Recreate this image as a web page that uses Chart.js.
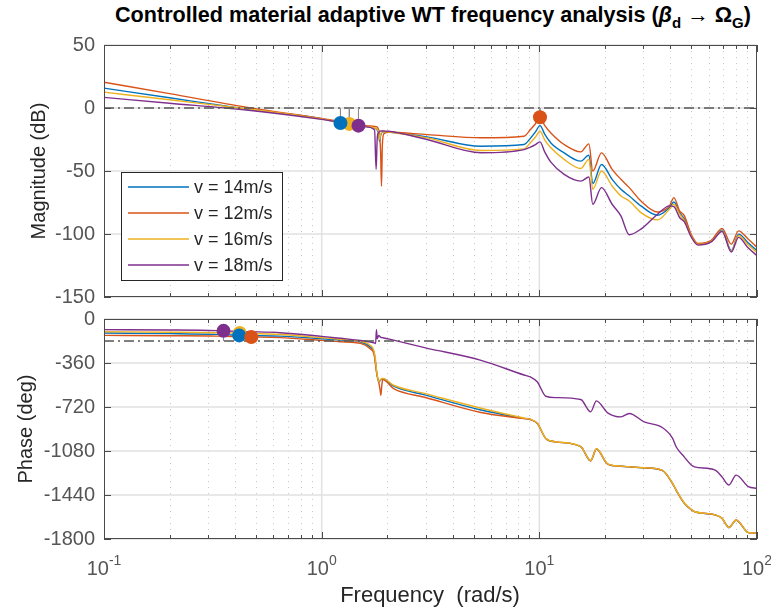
<!DOCTYPE html>
<html>
<head>
<meta charset="utf-8">
<script src="https://cdn.jsdelivr.net/npm/chart.js@4.4.1/dist/chart.umd.min.js"></script>
<style>
  body { margin: 0; background: #fff; width: 771px; height: 614px; position: relative; overflow: hidden; font-family: "Liberation Sans", Arial, sans-serif; }
  canvas { position: absolute; left: 0; }
  #magChart { top: 0; }
  #phaseChart { top: 290px; }
  .lbl { position: absolute; color: #262626; font-size: 20px; white-space: pre; line-height: 1; }
  .rot { transform: translate(-50%, -50%) rotate(-90deg); }
  #title { position: absolute; left: 433px; top: 3px; transform: translateX(-50%); font-size: 21.6px; font-weight: bold; color: #000; white-space: nowrap; line-height: 24px; }
  #title sub { font-size: 15px; vertical-align: -6px; line-height: 0; }
</style>
</head>
<body>
<div id="title">Controlled material adaptive WT frequency analysis (<i>β</i><sub>d</sub> → Ω<sub>G</sub>)</div>
<canvas id="magChart" width="771" height="320"></canvas>
<canvas id="phaseChart" width="771" height="324"></canvas>
<div class="lbl rot" style="left:38px;top:171px;">Magnitude (dB)</div>
<div class="lbl rot" style="left:25px;top:429px;">Phase (deg)</div>
<div class="lbl" style="left:430px;top:595px;transform:translate(-50%,-50%);font-size:22px;">Frequency  (rad/s)</div>
<script>
// series order as in the legend: 14, 12, 16, 18 m/s
const seriesNames = ['v = 14m/s', 'v = 12m/s', 'v = 16m/s', 'v = 18m/s'];
const seriesColors = ['#0072BD', '#D95319', '#EDB120', '#7E2F8E'];

const decadeTicks = [0.1, 1, 10, 100];
const magTicks = [-150, -100, -50, 0, 50];
const phaseTicks = [-1800, -1440, -1080, -720, -360, 0];

// magnitude (dB)
const magFreq = [0.1, 0.2, 0.45, 1.0, 1.22, 1.34, 1.476, 1.6, 1.75, 1.779, 1.8, 1.825, 1.844, 1.865, 1.883, 1.9, 1.93, 2.03, 3.05, 5.4,
  8.5, 9.1, 9.6, 10.07, 10.6, 11.3, 13.0, 15.5, 16.9, 17.6, 19.3, 21.6, 23.7, 25.9, 29.3, 34.9, 39.6, 41.5, 44.1, 46.4,
  49.9, 53.6, 61.6, 69.1, 76.2, 82.3, 91, 100];
const magV14 = [15.8, 8.1, -0.8, -8.6, -11.9, -12.8, -13.6, -14.6, -16.0, -16.6, -17.5, -20, -26.4, -22, -20, -19.2, -18.8, -19, -22.9, -30.3,
  -29, -24, -19, -14, -21, -27.7, -35.6, -42.2, -37.4, -60, -44.8, -56.6, -64.5, -69.8, -77.7, -85.1, -79, -74.6, -83, -88.2,
  -101.4, -108, -105.4, -96.7, -113.3, -100.1, -107, -113.3];
const magV12 = [20.5, 11.4, 0.7, -8.3, -10.6, -11.8, -12.8, -14.0, -14.6, -14.8, -15.2, -17, -22, -34, -62, -30, -20.5, -19.2, -21.1, -23.6,
  -22.4, -17.1, -12.5, -7.4, -14, -19.8, -29, -34.8, -28.5, -50, -35.6, -48.7, -56.6, -63.2, -73.8, -82.5, -77.7, -71.1, -81.7, -85.6,
  -100.5, -107.5, -105, -95.5, -108, -97.5, -104, -110.6];
const magV16 = [12.6, 6.5, -0.6, -8.7, -11.5, -12.6, -13.6, -14.6, -15.8, -16.3, -17.0, -19, -25, -21, -19.5, -19, -18.7, -19, -23.7, -33.7,
  -32.4, -27.5, -23, -18.5, -25.5, -31.6, -40.8, -48, -40.8, -64.5, -50, -61.9, -69.8, -73.8, -83, -88.8, -80.3, -76.4, -84.3, -89.6,
  -101.8, -108.3, -105.8, -97.5, -113.8, -101.4, -108.5, -114.6];
const magV18 = [8.4, 3.8, -1.6, -9.0, -11.3, -12.5, -14.0, -15.0, -17.5, -48.7, -24, -19.5, -18.5, -18.3, -18.2, -18.2, -18.3, -18.5, -25, -35.5,
  -33, -31, -29, -26.9, -35, -43, -52.7, -58, -54.8, -76.4, -63.2, -76.4, -85.6, -100.6, -96.1, -84.3, -77.7, -78.2, -86.9, -90.4,
  -102.5, -108.8, -106.3, -98, -114.3, -102.7, -111, -117.2];

// phase (deg)
const phaseFreq = [0.1, 0.2, 0.33, 0.45, 0.645, 1.0, 1.22, 1.51, 1.67, 1.74, 1.77, 1.785, 1.8, 1.83, 1.855, 1.87, 1.89, 1.91, 2.14, 3.0,
  5.4, 8.5, 9.1, 9.8, 10.7, 11.9, 15.5, 17.2, 18.3, 20.6, 23.7, 25.9, 30.3, 36.7, 40.9, 42.5, 46.4, 49.9, 51.6, 64.2,
  69, 74.3, 80.2, 91.3, 100];
const phaseV14 = [-115, -120, -126, -135, -140, -161, -172, -188, -229, -275, -360, -420, -465, -515, -505, -498, -490, -489, -550, -623,
  -745, -813, -822, -855, -977, -1005, -1045, -1160, -1064, -1187, -1205, -1210, -1218, -1238, -1344, -1400, -1508, -1560, -1576, -1603,
  -1630, -1708, -1646, -1748, -1753];
const phaseV12 = [-134, -137, -140, -147, -152, -175, -186, -200, -243, -290, -380, -430, -470, -520, -580, -624, -540, -495, -569, -642,
  -765, -815, -822, -855, -977, -1005, -1045, -1160, -1064, -1187, -1205, -1210, -1218, -1238, -1344, -1400, -1508, -1560, -1576, -1603,
  -1630, -1704, -1644, -1748, -1753];
const phaseV16 = [-104, -108, -112, -117, -127, -153, -166, -183, -215, -262, -345, -410, -460, -512, -500, -494, -487, -486, -542, -611,
  -730, -810, -820, -854, -976, -1004, -1044, -1158, -1062, -1185, -1204, -1209, -1217, -1237, -1342, -1398, -1505, -1558, -1575, -1602,
  -1630, -1706, -1645, -1747, -1752];
const phaseV18 = [-87, -90, -95, -103, -112, -142, -158, -176, -188, -195, -200, -87, -161, -134, -145, -150, -152, -153, -173, -236,
  -338, -458, -474, -515, -632, -643, -659, -760, -670, -768, -801, -773, -842, -888, -975, -1045, -1130, -1195, -1210, -1236,
  -1290, -1358, -1277, -1372, -1386];

// margin markers (same series order)
const gmFreq = [1.22, 10.07, 1.34, 1.476];
const gmMag = [-11.9, -7.4, -12.6, -14.0];
const pmFreq = [0.418, 0.475, 0.42, 0.354];
const pmPhase = [-134, -148, -115, -97];

const FONT = '"Liberation Sans", Arial, sans-serif';
const AXIS_COLOR = '#4a4a4a';
const minorTicks = [];
decadeTicks.slice(0, -1).forEach(d => { for (let k = 2; k <= 9; k++) minorTicks.push(k * d); });

function buildSets(freq, series, refLevel, mFreq, mVal) {
  const sets = series.map((vals, i) => ({
    label: seriesNames[i],
    data: freq.map((f, j) => ({ x: f, y: vals[j] })),
    borderColor: seriesColors[i], borderWidth: 1.4, pointRadius: 0, order: 13 - i,
    cubicInterpolationMode: 'monotone'
  }));
  sets.push({ data: [{ x: 0.1, y: refLevel }, { x: 100, y: refLevel }], borderColor: '#555', borderWidth: 1.4, borderDash: [10, 4, 2, 4], pointRadius: 0, order: 5 });
  mFreq.forEach((f, i) => {
    sets.push({ data: [{ x: f, y: refLevel }, { x: f, y: mVal[i] }], borderColor: '#8c8c8c', borderWidth: 1, pointRadius: 0, order: 4 });
    sets.push({ data: [{ x: f, y: mVal[i] }], showLine: false, pointRadius: 7, pointHoverRadius: 7, pointBorderWidth: 0,
      pointBackgroundColor: seriesColors[i], order: [2, 1, 3, 1][i] });
  });
  return sets;
}

const matlabAxes = {
  id: 'matlabAxes',
  beforeDatasetsDraw(chart) {
    const { ctx, chartArea: a, scales: { x, y } } = chart;
    ctx.save();
    ctx.lineWidth = 1;
    ctx.strokeStyle = '#c8c8c8';
    ctx.setLineDash([1, 5]);
    minorTicks.forEach(v => {
      const px = Math.round(x.getPixelForValue(v)) + 0.5;
      ctx.beginPath(); ctx.moveTo(px, a.top); ctx.lineTo(px, a.bottom); ctx.stroke();
    });
    ctx.setLineDash([]);
    ctx.strokeStyle = '#e1e1e1';
    ctx.lineWidth = 1.5;
    decadeTicks.slice(1, -1).forEach(v => {
      const px = x.getPixelForValue(v);
      ctx.beginPath(); ctx.moveTo(px, a.top); ctx.lineTo(px, a.bottom); ctx.stroke();
    });
    y.ticks.forEach(t => {
      const py = y.getPixelForValue(t.value);
      ctx.beginPath(); ctx.moveTo(a.left, py); ctx.lineTo(a.right, py); ctx.stroke();
    });
    ctx.restore();
  },
  afterDatasetsDraw(chart) {
    const { ctx, chartArea: a, scales: { x, y } } = chart;
    ctx.save();
    ctx.strokeStyle = AXIS_COLOR;
    ctx.lineWidth = 1;
    ctx.strokeRect(a.left + 0.5, a.top + 0.5, a.right - a.left - 1, a.bottom - a.top - 1);
    const tick = (v, len) => {
      const px = Math.round(x.getPixelForValue(v)) + 0.5;
      ctx.beginPath();
      ctx.moveTo(px, a.top); ctx.lineTo(px, a.top + len);
      ctx.moveTo(px, a.bottom); ctx.lineTo(px, a.bottom - len);
      ctx.stroke();
    };
    minorTicks.forEach(v => tick(v, 4));
    decadeTicks.forEach(v => tick(v, 7));
    y.ticks.forEach(t => {
      const py = Math.round(y.getPixelForValue(t.value)) + 0.5;
      ctx.beginPath();
      ctx.moveTo(a.left, py); ctx.lineTo(a.left + 7, py);
      ctx.moveTo(a.right, py); ctx.lineTo(a.right - 7, py);
      ctx.stroke();
    });
    ctx.restore();
  }
};

const boxLegend = {
  id: 'boxLegend',
  afterDraw(chart) {
    const { ctx, chartArea: a } = chart;
    const left = a.left + 17, top = a.top + 127, w = 161, h = 108;
    ctx.save();
    ctx.fillStyle = '#fff';
    ctx.fillRect(left, top, w, h);
    ctx.strokeStyle = '#262626';
    ctx.lineWidth = 1;
    ctx.strokeRect(left + 0.5, top + 0.5, w, h);
    ctx.font = '18px ' + FONT;
    ctx.textBaseline = 'middle';
    seriesNames.forEach((name, i) => {
      const ry = top + 15 + i * 26;
      ctx.strokeStyle = seriesColors[i];
      ctx.lineWidth = 1.5;
      ctx.beginPath(); ctx.moveTo(left + 7, ry); ctx.lineTo(left + 68, ry); ctx.stroke();
      ctx.fillStyle = '#262626';
      ctx.fillText(name, left + 73, ry + 1);
    });
    ctx.restore();
  }
};

const decadeLabels = {
  id: 'decadeLabels',
  afterDraw(chart) {
    const { ctx, chartArea: a, scales: { x } } = chart;
    ctx.save();
    ctx.fillStyle = '#555';
    ctx.textBaseline = 'alphabetic';
    decadeTicks.forEach(v => {
      const exp = String(Math.round(Math.log10(v)));
      ctx.font = '20px ' + FONT;
      const w1 = ctx.measureText('10').width;
      ctx.font = '14px ' + FONT;
      const w2 = ctx.measureText(exp).width;
      const left = x.getPixelForValue(v) - (w1 + w2) / 2;
      ctx.font = '20px ' + FONT;
      ctx.fillText('10', left, a.bottom + 36);
      ctx.font = '14px ' + FONT;
      ctx.fillText(exp, left + w1, a.bottom + 26);
    });
    ctx.restore();
  }
};

function axesOptions(yMin, yMax, yTicks, topPad, xHeight) {
  return {
    responsive: false,
    animation: false,
    layout: { padding: { top: topPad, right: 14, left: 0, bottom: 0 } },
    plugins: { legend: { display: false }, tooltip: { enabled: false } },
    scales: {
      x: {
        type: 'logarithmic', min: 0.1, max: 100,
        ticks: { display: false },
        grid: { display: false, drawTicks: false },
        border: { display: false },
        afterFit: s => { s.height = xHeight; }
      },
      y: {
        min: yMin, max: yMax,
        afterBuildTicks: s => { s.ticks = yTicks.map(v => ({ value: v })); },
        ticks: { font: { family: FONT, size: 20 }, color: '#555', padding: 9, callback: v => String(v) },
        grid: { display: false, drawTicks: false },
        border: { display: false },
        afterFit: s => { s.width = 104; s.paddingTop = 0; s.paddingBottom = 0; }
      }
    }
  };
}

const magChart = new Chart(document.getElementById('magChart').getContext('2d'), {
  type: 'line',
  data: { datasets: buildSets(magFreq, [magV14, magV12, magV16, magV18], 0, gmFreq, gmMag) },
  options: axesOptions(-150, 50, magTicks, 45, 23),
  plugins: [matlabAxes, boxLegend]
});

const phaseChart = new Chart(document.getElementById('phaseChart').getContext('2d'), {
  type: 'line',
  data: { datasets: buildSets(phaseFreq, [phaseV14, phaseV12, phaseV16, phaseV18], -180, pmFreq, pmPhase) },
  options: axesOptions(-1800, 0, phaseTicks, 29, 75),
  plugins: [matlabAxes, decadeLabels]
});
</script>
</body>
</html>
